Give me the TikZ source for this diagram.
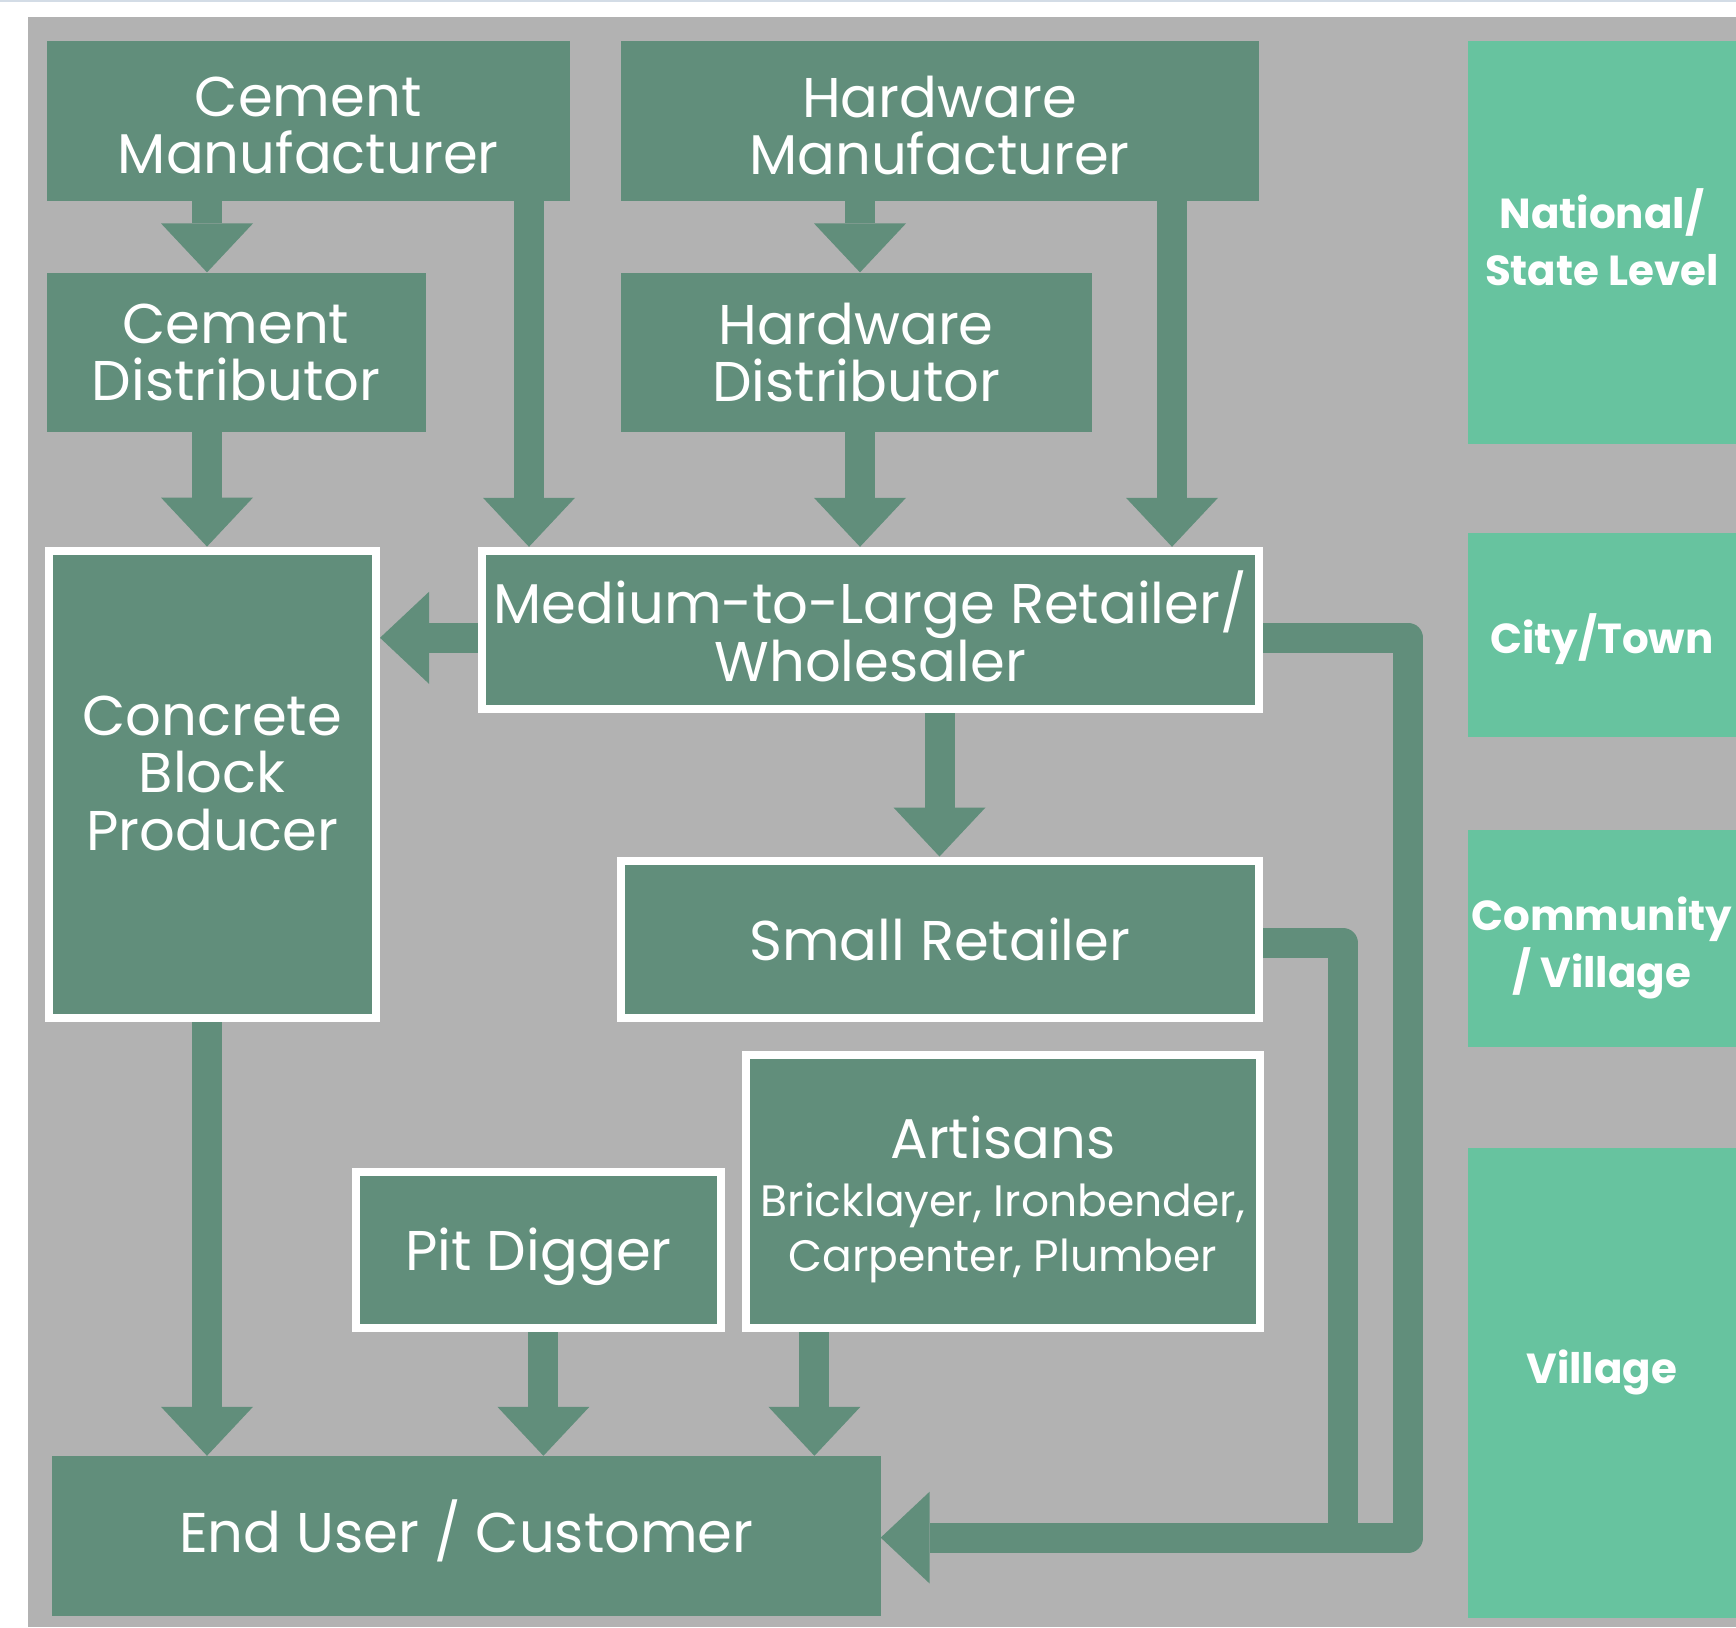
\documentclass[tikz,border=0pt]{standalone}
\usepackage{fontspec}
\setmainfont{Poppins}
\usetikzlibrary{arrows.meta}
\definecolor{dg}{HTML}{618E7B}
\definecolor{lg}{HTML}{67C39F}
\definecolor{bgg}{HTML}{B2B2B2}
\definecolor{topline}{HTML}{D3DCE6}
\newcommand\mainsz{\fontsize{56}{57.5}\selectfont}
\newcommand\subsz{\fontsize{44}{54}\selectfont}
\newcommand\lvlsz{\fontsize{42}{57}\selectfont}
\begin{document}
\begin{tikzpicture}[x=1pt,y=-1pt,
  box/.style={fill=dg, draw=none, inner sep=0pt},
  wbox/.style={box, draw=white, line width=8pt},
  txt/.style={inner sep=0pt, text=white, align=center, font=\mainsz},
  lvl/.style={fill=lg, draw=none, inner sep=0pt},
  lvltxt/.style={inner sep=0pt, text=white, align=center, font=\lvlsz\bfseries},
  flow/.style={draw=dg, line width=30pt, -{Triangle[width=92pt,length=49pt,line width=0pt]}},
  band/.style={draw=dg, line width=30pt, line join=round}]
\useasboundingbox (0,0) rectangle (1736,1627);
\fill[white] (0,0) rectangle (1736,1627);
\fill[topline] (0,0) rectangle (1736,2.5);
\fill[bgg] (27.5,17.5) rectangle (1736,1627);

% level boxes
\node[lvl, minimum width=268.3pt, minimum height=402.5pt] (nat) at (1601.85,242.75) {};
\node[lvltxt] (nattxt) at (1601.85,237.2) {National/\\State Level};
\node[lvl, minimum width=268.3pt, minimum height=204pt] (city) at (1601.85,634.5) {};
\node[lvltxt] (citytxt) at (1601.85,638.9) {City/Town};
\node[lvl, minimum width=268.3pt, minimum height=217pt] (comm) at (1601.85,938) {};
\node[lvltxt] (commtxt) at (1601.85,947.5) {Community\\/ Village};
\node[lvl, minimum width=268.3pt, minimum height=470pt] (vil) at (1601.85,1383) {};
\node[lvltxt] (viltxt) at (1601.85,1372.5) {Village};

% connector coordinates
\coordinate (xa) at (207,0);
\coordinate (xb) at (529,0);
\coordinate (xc) at (860,0);
\coordinate (xd) at (1172,0);
\coordinate (xe) at (939.5,0);
\coordinate (xp) at (543.4,0);
\coordinate (xq) at (814.4,0);
\coordinate (xl1) at (1408.3,0);
\coordinate (xl2) at (1343,0);
\coordinate (yb) at (0,637.8);
\coordinate (ys) at (0,943);
\coordinate (yu) at (0,1537.6);

% main boxes
\node[box, minimum width=523.5pt, minimum height=159.4pt] (cm) at (308.25,121.1) {};
\node[txt] (cmtxt) at (308.25,125.6) {Cement\\Manufacturer};
\node[box, minimum width=638pt, minimum height=159.4pt] (hm) at (939.5,121.1) {};
\node[txt] (hmtxt) at (939.5,125.6) {Hardware\\Manufacturer};
\node[box, minimum width=379pt, minimum height=159.4pt] (cd) at (236,352.3) {};
\node[txt] (cdtxt) at (236,352.3) {Cement\\Distributor};
\node[box, minimum width=471.5pt, minimum height=159.4pt] (hd) at (856.25,352.3) {};
\node[txt] (hdtxt) at (856.25,352.3) {Hardware\\Distributor};
\node[wbox, minimum width=327.5pt, minimum height=467.4pt] (cbp) at (212.25,784.3) {};
\node[txt] (cbptxt) at (212.25,773) {Concrete\\Block\\Producer};
\node[wbox, minimum width=777.5pt, minimum height=158.2pt] (mr) at (870.25,629.9) {};
\node[txt] (mrtxt) at (870.25,626.4) {Medium-to-Large Retailer/\\Wholesaler};
\node[wbox, minimum width=638.5pt, minimum height=157.5pt] (sr) at (939.75,939.25) {};
\node[txt] (srtxt) at (939.75,939.25) {Small Retailer};
\node[wbox, minimum width=513.5pt, minimum height=272.6pt] (art) at (1002.75,1191.7) {};
\node[txt] (arttxt) at (1002.75,1199.7) {Artisans\\[0pt]\subsz Bricklayer, Ironbender,\\[-2pt]\subsz Carpenter, Plumber};
\node[wbox, minimum width=365pt, minimum height=156pt] (pit) at (538.5,1250) {};
\node[txt] (pittxt) at (538.5,1256.5) {Pit Digger};
\node[box, minimum width=828.2pt, minimum height=159.5pt] (eu) at (466.4,1535.75) {};
\node[txt] (eutxt) at (466.4,1531.3) {End User / Customer};

% connectors
\draw[flow] (cm.south -| xa) -- (cd.north -| xa);
\draw[flow] (cd.south -| xa) -- (cbp.north -| xa);
\draw[flow] (cm.south -| xb) -- (mr.north -| xb);
\draw[flow] (hm.south -| xc) -- (hd.north -| xc);
\draw[flow] (hd.south -| xc) -- (mr.north -| xc);
\draw[flow] (hm.south -| xd) -- (mr.north -| xd);
\draw[flow] (mr.west |- yb) -- (cbp.east |- yb);
\draw[flow] (mr.south -| xe) -- (sr.north -| xe);
\draw[flow] (cbp.south -| xa) -- (eu.north -| xa);
\draw[flow] (pit.south -| xp) -- (eu.north -| xp);
\draw[flow] (art.south -| xq) -- (eu.north -| xq);
\draw[band] (sr.east |- ys) -- (xl2 |- ys) -- (xl2 |- yu);
\draw[flow, line join=round] (mr.east |- yb) -- (xl1 |- yb) -- (xl1 |- yu) -- (eu.east |- yu);
\end{tikzpicture}
\end{document}
